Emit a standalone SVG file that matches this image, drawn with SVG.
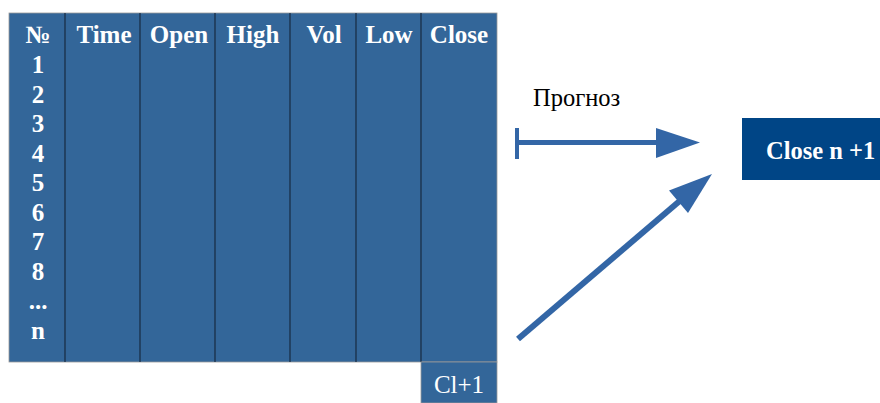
<svg xmlns="http://www.w3.org/2000/svg" width="880" height="403" viewBox="0 0 880 403">
  <style>
    .cell { fill: #336699; }
    .grid { stroke: #1a2f47; stroke-width: 1.3; }
    .hdr { font-family: "Liberation Serif", serif; font-weight: bold; font-size: 25px; fill: #ffffff; text-anchor: middle; }
    .num { font-family: "Liberation Serif", serif; font-weight: bold; font-size: 25px; fill: #ffffff; text-anchor: middle; }
    .arrow { fill: #3366a6; }
  </style>
  <rect width="880" height="403" fill="#ffffff"/>

  <g id="table">
    <rect class="cell" x="9" y="13" width="488" height="349" stroke="#9a9a9a" stroke-width="0.8"/>
    <g class="grid">
      <line x1="65" y1="13" x2="65" y2="362"/>
      <line x1="140" y1="13" x2="140" y2="362"/>
      <line x1="215" y1="13" x2="215" y2="362"/>
      <line x1="290" y1="13" x2="290" y2="362"/>
      <line x1="356" y1="13" x2="356" y2="362"/>
      <line x1="421" y1="13" x2="421" y2="362"/>
    </g>
    <text class="hdr" x="38" y="43">№</text>
    <text class="hdr" x="104" y="43">Time</text>
    <text class="hdr" x="179" y="43">Open</text>
    <text class="hdr" x="253" y="43">High</text>
    <text class="hdr" x="324" y="43">Vol</text>
    <text class="hdr" x="389" y="43">Low</text>
    <text class="hdr" x="459" y="43">Close</text>
    <text class="num" x="38" y="73">1</text>
    <text class="num" x="38" y="102.5">2</text>
    <text class="num" x="38" y="132">3</text>
    <text class="num" x="38" y="161.5">4</text>
    <text class="num" x="38" y="191">5</text>
    <text class="num" x="38" y="220.5">6</text>
    <text class="num" x="38" y="250">7</text>
    <text class="num" x="38" y="279.5">8</text>
    <text class="num" x="38" y="309">...</text>
    <text class="num" x="38" y="338.5">n</text>
  </g>

  <g id="cl-next">
    <rect x="421" y="362" width="76" height="41" fill="#336699" stroke="#9a9a9a" stroke-width="0.8"/>
    <text x="459" y="393" font-family="Liberation Serif, serif" font-size="25" fill="#ffffff" text-anchor="middle">Cl+1</text>
  </g>

  <g id="forecast-label">
    <text x="533" y="106" font-family="Liberation Serif, serif" font-size="24.5" fill="#000000">Прогноз</text>
  </g>

  <g id="close-next">
    <rect x="742" y="118" width="138" height="62" fill="#004586"/>
    <text x="766" y="159" font-family="Liberation Serif, serif" font-weight="bold" font-size="24.5" fill="#ffffff">Close n +1</text>
  </g>

  <g id="connectors">
    <!-- horizontal forecast arrow with bar tail -->
    <rect class="arrow" x="515" y="128" width="4" height="31"/>
    <rect class="arrow" x="517" y="140" width="142" height="5"/>
    <polygon class="arrow" points="656,128 700,142.5 656,158"/>
    <!-- diagonal arrow from the data column -->
    <line x1="518" y1="339" x2="682" y2="199" stroke="#3366a6" stroke-width="6"/>
    <polygon class="arrow" points="712,174 669,190.5 688,213"/>
  </g>
</svg>
